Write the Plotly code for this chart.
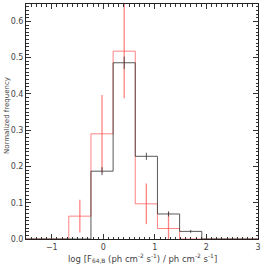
import plotly.graph_objects as go

bin_edges = [-1.53, -1.10, -0.67, -0.24, 0.19, 0.62, 1.05, 1.48, 1.91, 2.34, 2.77, 3.20]
red_freq = [0, 0, 0.063, 0.290, 0.518, 0.097, 0.029, 0, 0, 0, 0]
red_err = [0, 0, 0.045, 0.107, 0.130, 0.056, 0.046, 0, 0, 0, 0]
black_freq = [0, 0, 0, 0.187, 0.486, 0.228, 0.069, 0.021, 0, 0, 0]
black_err = [0, 0, 0, 0.011, 0.017, 0.010, 0.007, 0.004, 0, 0, 0]

x_tick_vals = [-1, 0, 1, 2, 3]
y_tick_vals = [0.0, 0.1, 0.2, 0.3, 0.4, 0.5, 0.6]
y_tick_text = ["0.0", "0.1", "0.2", "0.3", "0.4", "0.5", "0.6"]

RED = "rgba(255,90,90,0.75)"
BLACK = "rgba(60,60,60,0.85)"
FONT = "DejaVu Sans, Liberation Sans, sans-serif"

centers = [(bin_edges[i] + bin_edges[i + 1]) / 2 for i in range(len(bin_edges) - 1)]

fig = go.Figure()

def add_hist(freq, err, color, ew):
    fig.add_trace(go.Scatter(
        x=bin_edges, y=list(freq) + [freq[-1]], mode="lines",
        line=dict(color=color, width=1, shape="hv"), hoverinfo="skip",
        showlegend=False, cliponaxis=True))
    cx = [c for c, e in zip(centers, err) if e > 0]
    cy = [f for f, e in zip(freq, err) if e > 0]
    ce = [e for e in err if e > 0]
    fig.add_trace(go.Scatter(
        x=cx, y=cy, mode="markers", marker=dict(size=0.1, color=color, opacity=0),
        error_y=dict(type="data", array=ce, color=color, thickness=ew, width=0),
        showlegend=False, hoverinfo="skip"))

add_hist(red_freq, red_err, RED, 1.3)
add_hist(black_freq, black_err, BLACK, 1)

axis_common = dict(
    showline=True, linecolor="#222", linewidth=1, mirror="ticks",
    ticks="inside", ticklen=5, tickcolor="#333", tickwidth=1,
    showgrid=False, zeroline=False, automargin=False,
    tickfont=dict(family=FONT, size=8, color="#444"),
)

fig.update_layout(
    width=264, height=264,
    margin=dict(l=26, r=6, t=4, b=25),
    paper_bgcolor="white", plot_bgcolor="white",
    hovermode=False,
    xaxis=dict(
        range=[-1.5, 3.001], tickvals=x_tick_vals,
        minor=dict(dtick=0.1, ticks="inside", ticklen=2.5, tickcolor="#333", showgrid=False),
        **axis_common),
    yaxis=dict(
        range=[0, 0.648], tickvals=y_tick_vals, ticktext=y_tick_text,
        minor=dict(dtick=0.01, ticks="inside", ticklen=2.5, tickcolor="#333", showgrid=False),
        **axis_common),
    annotations=[
        dict(text="log [F<sub>64,B</sub> (ph cm<sup>-2</sup> s<sup>-1</sup>) / ph cm<sup>-2</sup> s<sup>-1</sup>]",
             xref="paper", yref="paper", x=0.5, y=-0.045, xanchor="center", yanchor="top",
             showarrow=False, font=dict(family=FONT, size=8.5, color="#444")),
        dict(text="Normalized frequency", textangle=-90,
             xref="paper", yref="paper", x=-0.11, y=0.525, xanchor="left", yanchor="middle",
             showarrow=False, font=dict(family=FONT, size=7, color="#444")),
    ],
)

fig.write_html("out.html", config={"displayModeBar": False, "staticPlot": True},
               post_script="document.body.style.margin='0px';document.body.style.overflow='hidden';")
